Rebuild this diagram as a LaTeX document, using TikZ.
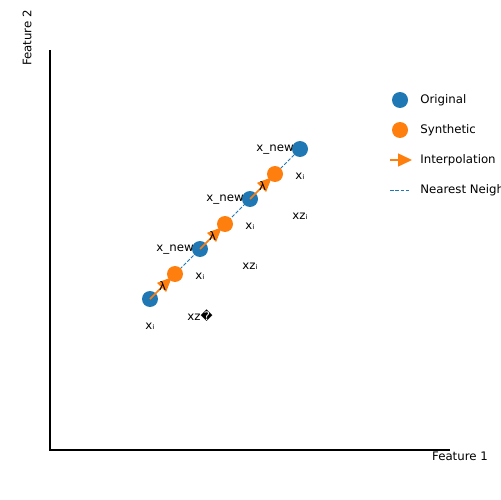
\documentclass[tikz,border=0pt]{standalone}
\usepackage{fontspec}
\setmainfont{DejaVu Sans}
\usetikzlibrary{arrows.meta,positioning}
\definecolor{OrigBlue}{HTML}{1F77B4}
\definecolor{SynthOrange}{HTML}{FF7F0E}

\begin{document}
\begin{tikzpicture}[x=0.02cm,y=-0.02cm,
  font=\fontsize{6.7}{8}\selectfont,
  orig/.style={circle,fill=OrigBlue,inner sep=0pt,minimum size=0.32cm},
  synth/.style={circle,fill=SynthOrange,inner sep=0pt,minimum size=0.32cm},
  interp/.style={SynthOrange,line width=0.85pt,-{Triangle[length=0.29cm,width=0.25cm]}},
  neigh/.style={OrigBlue,line width=0.55pt,dash pattern=on 2pt off 1pt},
  lbl/.style={inner sep=0pt}]
\useasboundingbox (0,0) rectangle (500,500);
\clip (0,0) rectangle (500,500);
% axes
\coordinate (top) at (50,50);
\coordinate (origin) at (50,450);
\coordinate (right) at (450,450);
\draw[line width=0.8pt] (top) -- (origin) -- (right);
\node[lbl,anchor=center] (xlab) at (460,456) {Feature 1};
\node[lbl,rotate=90] (ylab) at (27,38) {Feature 2};
% points
\foreach \i/\x/\y in {1/150/299,2/200/249,3/250/199,4/300/149}
  \coordinate (c\i) at (\x,\y);
\foreach \i/\x/\y in {1/175/274,2/225/224,3/275/174}
  \coordinate (d\i) at (\x,\y);
\draw[neigh] (c1) -- (c2) -- (c3) -- (c4);
\foreach \i in {1,...,4}
  \node[orig] (p\i) at (c\i) {};
\foreach \i in {1,2,3}
  \node[synth] (s\i) at (d\i) {};
\foreach \i/\j in {1/1,2/2,3/3}
  \draw[interp,shorten >=0.09cm] (p\i.center) -- node[lbl,black,pos=0.5] (lam\i) {λ} (s\j.center);
% labels
\foreach \i/\x/\y in {1/150/299,2/200/249,3/250/199,4/300/149}
  \node[lbl] (xi\i) at (\x,\y+27) {xᵢ};
\foreach \i/\x/\y in {2/200/249,3/250/199,4/300/149}
  \node[lbl,anchor=east] (xn\i) at (\x-6,\y+1) {x\_new};
\node[lbl] (xz1) at (200,316) {xz�};
\node[lbl] (xz2) at (250,266) {xzᵢ};
\node[lbl] (xz3) at (300,216) {xzᵢ};
% legend
\node[orig] (legorig) at (400,100) {};
\node[synth] (legsynth) at (400,130) {};
\coordinate (legia) at (390,160);
\coordinate (legib) at (412,160);
\draw[SynthOrange,line width=0.85pt,-{Triangle[length=0.28cm,width=0.26cm]}] (legia) -- (legib);
\coordinate (legna) at (390,190);
\coordinate (legnb) at (411,190);
\draw[neigh] (legna) -- (legnb);
\node[lbl,anchor=west] (torig) at (420,100) {Original};
\node[lbl,anchor=west] (tsynth) at (420,130) {Synthetic};
\node[lbl,anchor=west] (tinterp) at (420,160) {Interpolation};
\node[lbl,anchor=west] (tneigh) at (420,190) {Nearest Neighbors};
\end{tikzpicture}
\end{document}
